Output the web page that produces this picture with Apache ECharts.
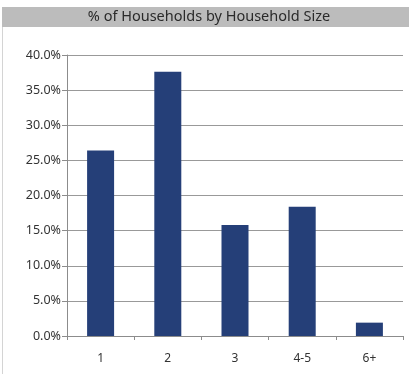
<!DOCTYPE html>
<html>
<head>
<meta charset="utf-8">
<script src="https://cdn.jsdelivr.net/npm/echarts@6/dist/echarts.min.js"></script>
<style>
  html, body { margin: 0; padding: 0; background: #fff; }
  #chart { width: 409px; height: 374px; }
</style>
</head>
<body>
<div id="chart"></div>
<script>
// Household size categories and share of households (%)
const categories = ['1', '2', '3', '4-5', '6+'];
const shares = [26.4, 37.6, 15.8, 18.4, 1.9];
const yTicks = { min: 0, max: 40, interval: 5 };
const titleText = '% of Households by Household Size';

const chart = echarts.init(document.getElementById('chart'));
chart.setOption({
  animation: false,
  backgroundColor: '#ffffff',
  graphic: [
    { type: 'rect', shape: { x: 2, y: 7, width: 407, height: 20 }, style: { fill: '#bcbcbc' }, silent: true },
    { type: 'line', shape: { x1: 2.5, y1: 27, x2: 2.5, y2: 374 }, style: { stroke: '#d4d4d4', lineWidth: 1 }, silent: true },
    { type: 'text', x: 209, y: 17, style: { text: titleText, fill: '#2a2a2a', font: '14.5px "Noto Sans"', align: 'center', verticalAlign: 'middle' }, silent: true }
  ],
  grid: { left: 67, right: 6, top: 55, bottom: 38 },
  xAxis: {
    type: 'category',
    data: categories,
    axisLine: { lineStyle: { color: '#8c8c8c' } },
    axisTick: { show: true, length: 4, lineStyle: { color: '#8c8c8c' } },
    axisLabel: { color: '#333', fontSize: 12, fontFamily: 'Noto Sans', margin: 17 }
  },
  yAxis: {
    type: 'value',
    min: yTicks.min, max: yTicks.max, interval: yTicks.interval,
    axisLine: { show: true, lineStyle: { color: '#8c8c8c' } },
    axisTick: { show: true, length: 5, lineStyle: { color: '#8c8c8c' } },
    axisLabel: { color: '#333', fontSize: 12.5, fontFamily: 'Noto Sans', margin: 6, formatter: v => v.toFixed(1) + '%' },
    splitLine: { lineStyle: { color: '#999' } }
  },
  series: [{
    type: 'bar',
    data: shares,
    barWidth: 27,
    itemStyle: { color: '#253f78' }
  }]
});
</script>
</body>
</html>
